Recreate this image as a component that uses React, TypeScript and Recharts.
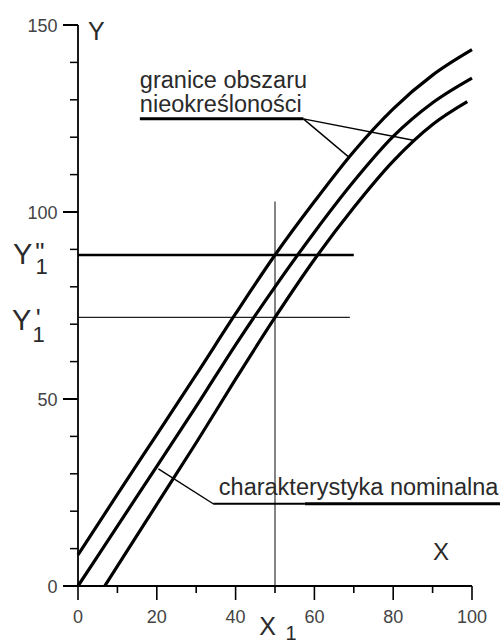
import React from 'react'
import { LineChart, Line, XAxis, YAxis, ReferenceLine, ReferenceDot } from 'recharts'

// static characteristic: nominal curve and the two bounds of the uncertainty band
const xGrid = [0, 10, 20, 30, 40, 50, 60, 70, 80, 90, 100]
const upperBound = [8.3, 24.5, 40.5, 56.5, 72.8, 88.5, 102.8, 116.2, 127.6, 136.6, 143.4]
const nominal = [0, 16, 32, 48, 64.5, 80, 94.6, 108.2, 120.2, 129.2, 135.8]
const lowerX = [6.8, 10, 20, 30, 40, 50, 60, 70, 80, 90, 98.8]
const lowerBound = [0, 5.3, 21.8, 38.3, 55.3, 71.8, 87.3, 101.2, 113.6, 123.4, 129.5]

const xTicks = [0, 10, 20, 30, 40, 50, 60, 70, 80, 90, 100]
const yTicks = [0, 10, 20, 30, 40, 50, 60, 70, 80, 90, 100, 110, 120, 130, 140, 150]

// measured input and the output interval it gives
const X1 = 50
const Y1_UPPER = 88.5 // Y1''
const Y1_LOWER = 71.8 // Y1'

const FONT = '"Liberation Sans", Arial, Helvetica, sans-serif'
const INK = '#000'
const TEXT = '#2a2a2a'

const upperData = xGrid.map((x, i) => ({ x, y: upperBound[i] }))
const nominalData = xGrid.map((x, i) => ({ x, y: nominal[i] }))
const lowerData = lowerX.map((x, i) => ({ x, y: lowerBound[i] }))

function YTick(props: any) {
  const { x, y, payload } = props
  const major = payload.value % 50 === 0
  return (
    <g>
      <line x1={x - (major ? 15 : 8)} x2={x} y1={y} y2={y} stroke={INK} strokeWidth={major ? 2 : 1.5} />
      {major && (
        <text x={x - 20.5} y={y + 6.5} textAnchor="end" fontSize={18} fontFamily={FONT} fill="#444">
          {payload.value}
        </text>
      )}
    </g>
  )
}

function XTick(props: any) {
  const { x, y, payload } = props
  const major = payload.value % 20 === 0
  return (
    <g>
      <line x1={x} x2={x} y1={y} y2={y + (major ? 14 : 7)} stroke={INK} strokeWidth={1.6} />
      {major && (
        <text x={x} y={y + 37} textAnchor="middle" fontSize={18} fontFamily={FONT} fill="#444">
          {payload.value}
        </text>
      )}
    </g>
  )
}

// puts free text at a data point, offsets in pixels
function place(key: string, x: number, y: number, draw: (cx: number, cy: number) => React.ReactNode) {
  return (
    <ReferenceDot
      key={key}
      x={x}
      y={y}
      r={0}
      ifOverflow="visible"
      shape={(p: any) => <g fontFamily={FONT} fill={TEXT}>{draw(p.cx, p.cy)}</g>}
    />
  )
}

function seg(key: string, a: [number, number], b: [number, number], w: number, color = INK) {
  return (
    <ReferenceLine
      key={key}
      segment={[{ x: a[0], y: a[1] }, { x: b[0], y: b[1] }]}
      stroke={color}
      strokeWidth={w}
      ifOverflow="visible"
    />
  )
}

export default function App() {
  return (
    <div style={{ width: 504, height: 640, background: '#fff' }}>
      <style>{'body{margin:0}'}</style>
      <LineChart width={504} height={640} margin={{ top: 25, right: 32, bottom: 24, left: 18 }}>
        <XAxis
          type="number"
          dataKey="x"
          domain={[0, 100]}
          ticks={xTicks}
          interval={0}
          height={30}
          tickSize={0}
          tickMargin={0}
          tickLine={false}
          axisLine={{ stroke: INK, strokeWidth: 1.8 }}
          tick={(p: any) => <XTick {...p} />}
        />
        <YAxis
          type="number"
          dataKey="y"
          domain={[0, 150]}
          ticks={yTicks}
          interval={0}
          width={60}
          tickSize={0}
          tickMargin={0}
          tickLine={false}
          axisLine={{ stroke: INK, strokeWidth: 1.8 }}
          tick={(p: any) => <YTick {...p} />}
        />

        {/* reading the output interval for input X1 */}
        {seg('x1', [X1, 0], [X1, 102.8], 1.2, '#333')}
        {seg('y1u', [0, Y1_UPPER], [70, Y1_UPPER], 2.5)}
        {seg('y1l', [0, Y1_LOWER], [69, Y1_LOWER], 1.2, '#222')}

        <Line data={upperData} dataKey="y" type="monotone" stroke={INK} strokeWidth={3.2} dot={false} isAnimationActive={false} />
        <Line data={nominalData} dataKey="y" type="monotone" stroke={INK} strokeWidth={3.2} dot={false} isAnimationActive={false} />
        <Line data={lowerData} dataKey="y" type="monotone" stroke={INK} strokeWidth={3.2} dot={false} isAnimationActive={false} />

        {/* callout: band limits */}
        {seg('gu', [15.7, 124.9], [57.2, 124.9], 3)}
        {seg('ga', [57.2, 124.9], [68.6, 114.8], 1.4)}
        {seg('gb', [57.2, 124.9], [85.1, 119.2], 1.4)}

        {/* callout: nominal characteristic */}
        {seg('cu1', [34.3, 22.0], [57.6, 22.0], 2)}
        {seg('cu2', [57.6, 22.0], [107.1, 22.0], 3)}
        {seg('ca', [34.3, 22.0], [20.4, 31.3], 1.4)}

        {place('glab', 15.7, 124.9, (cx, cy) => (
          <text fontSize={23.5}>
            <tspan x={cx} y={cy - 30.7}>granice obszaru</tspan>
            <tspan x={cx} y={cy - 6.4}>nieokreśloności</tspan>
          </text>
        ))}
        {place('clab', 34.3, 22.0, (cx, cy) => (
          <text x={cx + 5.7} y={cy - 9} fontSize={23.5}>charakterystyka nominalna</text>
        ))}

        {place('ytitle', 0, 150, (cx, cy) => (
          <text x={cx + 10} y={cy + 15} fontSize={25}>Y</text>
        ))}
        {place('xtitle', 100, 0, (cx, cy) => (
          <text x={cx - 39} y={cy - 26} fontSize={24}>X</text>
        ))}

        {place('y1u-lab', 0, Y1_UPPER, (cx, cy) => (
          <text fontSize={29}>
            <tspan x={cx - 65} y={cy + 9}>Y</tspan>
            <tspan x={cx - 42.8} y={cy + 5.6} fontSize={26}>"</tspan>
            <tspan x={cx - 42.4} y={cy + 19} fontSize={22}>1</tspan>
          </text>
        ))}
        {place('y1l-lab', 0, Y1_LOWER, (cx, cy) => (
          <text fontSize={29}>
            <tspan x={cx - 66} y={cy + 12.5}>Y</tspan>
            <tspan x={cx - 42.3} y={cy + 9.1} fontSize={26}>'</tspan>
            <tspan x={cx - 45.4} y={cy + 24.5} fontSize={22}>1</tspan>
          </text>
        ))}
        {place('x1-lab', X1, 0, (cx, cy) => (
          <text fontSize={25}>
            <tspan x={cx - 15.7} y={cy + 49}>X</tspan>
            <tspan x={cx + 10.5} y={cy + 54} fontSize={20}>1</tspan>
          </text>
        ))}
      </LineChart>
    </div>
  )
}
